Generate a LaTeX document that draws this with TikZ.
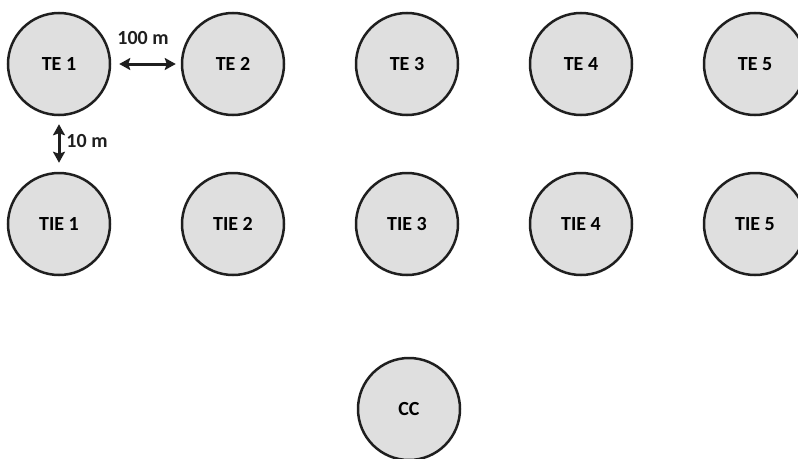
\documentclass[tikz,border=0pt]{standalone}
\usepackage{fontspec}
\setmainfont{Carlito}
\usetikzlibrary{arrows.meta}
\begin{document}
\begin{tikzpicture}[x=1pt,y=-1pt,
  site/.style={circle,draw=black!88,line width=2.5pt,fill=gray!25!white,
    minimum size=102pt,inner sep=0pt,font=\fontsize{20}{24}\selectfont\bfseries},
  dim/.style={line width=3pt,draw=black!88,
    {Stealth[length=11pt,width=12pt,inset=2pt]}-{Stealth[length=11pt,width=12pt,inset=2pt]}},
  dimlabel/.style={font=\fontsize{20}{24}\selectfont\bfseries,text=black!88,inner sep=0pt}]
  \useasboundingbox (0,0) rectangle (798,458);
  \clip (0,0) rectangle (798,458);
  % upper row
  \node[site] (te1) at (59,64) {TE 1};
  \node[site] (te2) at (233,64) {TE 2};
  \node[site] (te3) at (407,64) {TE 3};
  \node[site] (te4) at (581,64) {TE 4};
  \node[site] (te5) at (755,64) {TE 5};
  % lower row
  \node[site] (tie1) at (59,224) {TIE 1};
  \node[site] (tie2) at (233,224) {TIE 2};
  \node[site] (tie3) at (407,224) {TIE 3};
  \node[site] (tie4) at (581,224) {TIE 4};
  \node[site] (tie5) at (755,224) {TIE 5};
  % central node
  \node[site] (cc) at (409,409) {CC};
  % spacing dimensions
  \draw[dim,shorten <=8pt,shorten >=5pt] (te1) -- (te2);
  \draw[dim,shorten <=8pt,shorten >=9pt] (te1) -- (tie1);
  \node[dimlabel] (lh) at (143,38) {100 m};
  \node[dimlabel] (lv) at (87,141) {10 m};
\end{tikzpicture}
\end{document}
